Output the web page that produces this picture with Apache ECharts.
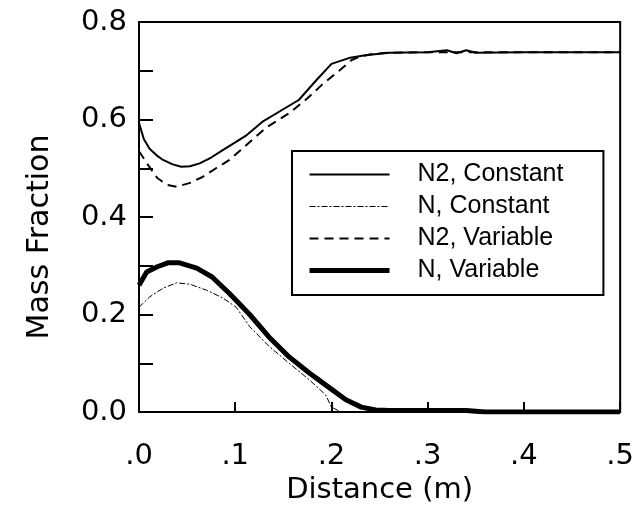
<!DOCTYPE html>
<html>
<head>
<meta charset="utf-8">
<script src="https://cdn.jsdelivr.net/npm/echarts@6/dist/echarts.min.js"></script>
<style>
  html, body { margin: 0; padding: 0; background: #fff; }
  #chart { width: 637px; height: 512px; }
</style>
</head>
<body>
<div id="chart"></div>
<script>
// values (distance in m, mass fraction)
const n2ConstX = [0, 0.005, 0.011, 0.018, 0.025, 0.035, 0.044, 0.053, 0.063, 0.075, 0.087, 0.1, 0.112, 0.128, 0.149, 0.166, 0.184, 0.2, 0.218, 0.235, 0.26, 0.3, 0.32, 0.33, 0.34, 0.35, 0.4, 0.45, 0.5]
const n2ConstY = [0.593, 0.56, 0.54, 0.527, 0.517, 0.508, 0.503, 0.504, 0.51, 0.522, 0.537, 0.553, 0.568, 0.595, 0.62, 0.64, 0.68, 0.714, 0.726, 0.732, 0.737, 0.738, 0.742, 0.736, 0.742, 0.737, 0.738, 0.738, 0.738]

const nConstX = [0, 0.011, 0.025, 0.039, 0.053, 0.07, 0.087, 0.101, 0.115, 0.135, 0.156, 0.177, 0.194, 0.2, 0.21, 0.5]
const nConstY = [0.215, 0.236, 0.254, 0.265, 0.262, 0.25, 0.234, 0.215, 0.175, 0.135, 0.1, 0.066, 0.035, 0.01, 0, 0]

const n2VarX = [0, 0.005, 0.01, 0.019, 0.029, 0.039, 0.053, 0.066, 0.08, 0.094, 0.11, 0.132, 0.156, 0.173, 0.19, 0.208, 0.221, 0.231, 0.245, 0.26, 0.3, 0.5]
const n2VarY = [0.535, 0.52, 0.505, 0.48, 0.466, 0.462, 0.47, 0.482, 0.5, 0.517, 0.545, 0.583, 0.613, 0.64, 0.671, 0.7, 0.722, 0.73, 0.735, 0.737, 0.738, 0.738]

const nVarX = [0, 0.008, 0.019, 0.03, 0.042, 0.06, 0.076, 0.094, 0.115, 0.135, 0.156, 0.177, 0.197, 0.215, 0.231, 0.246, 0.26, 0.3, 0.34, 0.36, 0.4, 0.5]
const nVarY = [0.26, 0.287, 0.298, 0.306, 0.306, 0.295, 0.277, 0.243, 0.2, 0.154, 0.113, 0.08, 0.051, 0.025, 0.01, 0.004, 0.003, 0.003, 0.003, 0, 0, 0]

const seriesNames = ['N2, Constant', 'N, Constant', 'N2, Variable', 'N, Variable']

const pairs = (xs, ys) => xs.map((x, i) => [x, ys[i]])
const font = 'Liberation Sans, Arial, Helvetica, sans-serif'
const axisFont = 'DejaVu Sans, sans-serif'

let chart = echarts.init(document.getElementById('chart'), null, { renderer: 'canvas' })
chart.setOption({
  animation: false,
  backgroundColor: '#fff',
  grid: {
    left: 139, right: 14, top: 22, bottom: 100,
    show: true, borderColor: '#000', borderWidth: 2
  },
  legend: {
    left: 292, top: 151,
    orient: 'vertical',
    data: seriesNames,
    backgroundColor: '#fff',
    borderColor: '#000',
    borderWidth: 2,
    padding: [11, 40, 12, 15],
    itemWidth: 80,
    itemHeight: 14,
    itemGap: 7,
    itemStyle: { opacity: 0 },
    lineStyle: { width: 'inherit' },
    textStyle: { fontFamily: font, fontSize: 25, color: '#000', padding: [0, 0, 0, 23] }
  },
  xAxis: {
    type: 'value',
    min: 0, max: 0.5, interval: 0.1,
    name: 'Distance (m)',
    nameLocation: 'middle',
    nameGap: 62,
    nameTextStyle: { fontFamily: axisFont, fontSize: 29, color: '#000' },
    axisLine: { lineStyle: { color: '#000', width: 2 } },
    axisTick: { inside: true, length: 10, lineStyle: { color: '#000', width: 2 } },
    axisLabel: {
      fontFamily: axisFont, fontSize: 29, color: '#000', margin: 30,
      formatter: v => v.toFixed(1).replace(/^0/, '')
    },
    splitLine: { show: false }
  },
  yAxis: {
    type: 'value',
    min: 0, max: 0.8, interval: 0.1,
    name: 'Mass Fraction',
    nameLocation: 'middle',
    nameGap: 84,
    nameTextStyle: { fontFamily: axisFont, fontSize: 30, color: '#000', padding: [0, 40, 0, 0] },
    axisLine: { lineStyle: { color: '#000', width: 2 } },
    axisTick: { inside: true, length: 14, lineStyle: { color: '#000', width: 2 } },
    axisLabel: {
      fontFamily: axisFont, fontSize: 29, color: '#000', margin: 12,
      formatter: v => (Math.round(v * 10) % 2 === 0 ? v.toFixed(1) : '')
    },
    splitLine: { show: false }
  },
  series: [
    {
      name: seriesNames[0], type: 'line', symbol: 'none',
      data: pairs(n2ConstX, n2ConstY),
      lineStyle: { color: '#000', width: 2, type: 'solid' },
      itemStyle: { color: '#000' }
    },
    {
      name: seriesNames[1], type: 'line', symbol: 'none',
      data: pairs(nConstX, nConstY),
      lineStyle: { color: '#000', width: 1, type: [6, 2, 2, 2] },
      itemStyle: { color: '#000' }
    },
    {
      name: seriesNames[2], type: 'line', symbol: 'none',
      data: pairs(n2VarX, n2VarY),
      lineStyle: { color: '#000', width: 2, type: [9, 6] },
      itemStyle: { color: '#000' }
    },
    {
      name: seriesNames[3], type: 'line', symbol: 'none',
      data: pairs(nVarX, nVarY),
      lineStyle: { color: '#000', width: 5, type: 'solid' },
      itemStyle: { color: '#000' }
    }
  ]
})
</script>
</body>
</html>
